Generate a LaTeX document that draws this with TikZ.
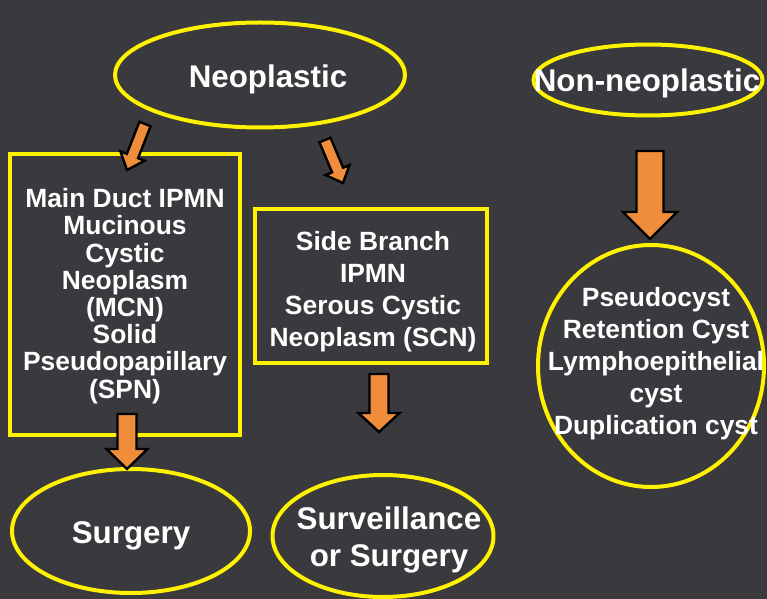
\documentclass[tikz,border=0pt]{standalone}
\usepackage{fontspec}
\setmainfont{Liberation Sans}
\usetikzlibrary{calc,shapes.geometric}
\definecolor{bgcol}{RGB}{57,57,62}
\definecolor{yel}{RGB}{255,242,0}
\definecolor{orng}{RGB}{240,141,58}
\tikzset{
  shapeline/.style={draw=yel, line width=3pt},
  ell/.style={shapeline, ellipse, inner sep=0pt},
  boxsh/.style={shapeline, rectangle, inner sep=0pt},
  bigtxt/.style={text=white, font=\bfseries\fontsize{23.5}{27.75}\selectfont, align=center, inner sep=0pt},
  smalltxt/.style={text=white, font=\bfseries\fontsize{19.8}{24}\selectfont, align=center, inner sep=0pt},
  blockarrow/.style={fill=orng, draw=black, line width=1.8pt, line join=miter},
}
% #1 start, #2 end, #3 half shaft width (px), #4 half head width (px), #5 head length (px)
\newcommand\fatarrow[5]{%
  \draw[blockarrow] let \p1=($(#2)-(#1)$), \n1={atan2(\y1,\x1)}, \n2={veclen(\x1,\y1)} in
    [shift={(#1)}, rotate=\n1]
    (0pt,{-#3*0.75pt}) -- ({\n2*1pt-#5*0.75pt},{-#3*0.75pt}) -- ({\n2*1pt-#5*0.75pt},{-#4*0.75pt})
    -- ({\n2*1pt},0pt) -- ({\n2*1pt-#5*0.75pt},{#4*0.75pt}) -- ({\n2*1pt-#5*0.75pt},{#3*0.75pt})
    -- (0pt,{#3*0.75pt}) -- cycle;}
\begin{document}
\begin{tikzpicture}[x=0.75pt,y=-0.75pt]
\fill[bgcol] (0,0) rectangle (767,599);
\useasboundingbox (0,0) rectangle (767,599);

% shapes
\node[ell, minimum width=290*0.75pt, minimum height=105*0.75pt] (neo) at (260,75) {};
\node[ell, minimum width=229*0.75pt, minimum height=71*0.75pt] (nonneo) at (648,80) {};
\node[boxsh, minimum width=230*0.75pt, minimum height=281*0.75pt] (leftbox) at (125,294.5) {};
\node[boxsh, minimum width=232*0.75pt, minimum height=154*0.75pt] (midbox) at (371,286) {};
\node[ell, minimum width=226*0.75pt, minimum height=242*0.75pt] (cysts) at (651,366) {};
\node[ell, minimum width=238*0.75pt, minimum height=124*0.75pt] (surgery) at (131,531) {};
\node[ell, minimum width=221*0.75pt, minimum height=122*0.75pt] (surv) at (383,536) {};

% texts
\node[bigtxt] (tneo) at (268,79) {Neoplastic};
\node[bigtxt] (tnonneo) at (647,83) {Non-neoplastic};
\node[smalltxt, font=\bfseries\fontsize{19.8}{20.4}\selectfont] (tleft) at (125,296) {Main Duct IPMN\\Mucinous\\Cystic\\Neoplasm\\(MCN)\\Solid\\Pseudopapillary\\(SPN)};
\node[smalltxt] (tmid) at (373,292) {Side Branch\\IPMN\\Serous Cystic\\Neoplasm (SCN)};
\node[smalltxt] (tcysts) at (656,364) {Pseudocyst\\Retention Cyst\\Lymphoepithelial\\cyst\\Duplication cyst};
\node[bigtxt] (tsurgery) at (131,536) {Surgery};
\node[bigtxt, font=\bfseries\fontsize{23.5}{28}\selectfont] (tsurv) at (389,540) {Surveillance\\or Surgery};

% arrow end points
\coordinate (a1s) at (145,124); \coordinate (a1e) at (127,170);
\coordinate (a2s) at (325,140); \coordinate (a2e) at (343,183);
\coordinate (a3s) at (650,151); \coordinate (a3e) at (650,239);
\coordinate (a4s) at (127,414); \coordinate (a4e) at (127,469);
\coordinate (a5s) at (379,374); \coordinate (a5e) at (379,432);

\fatarrow{a1s}{a1e}{6}{13}{15}
\fatarrow{a2s}{a2e}{6}{13}{14}
\fatarrow{a3s}{a3e}{13.5}{27}{27}
\fatarrow{a4s}{a4e}{9.5}{20.5}{20}
\fatarrow{a5s}{a5e}{9.5}{20.5}{19}
\end{tikzpicture}
\end{document}
